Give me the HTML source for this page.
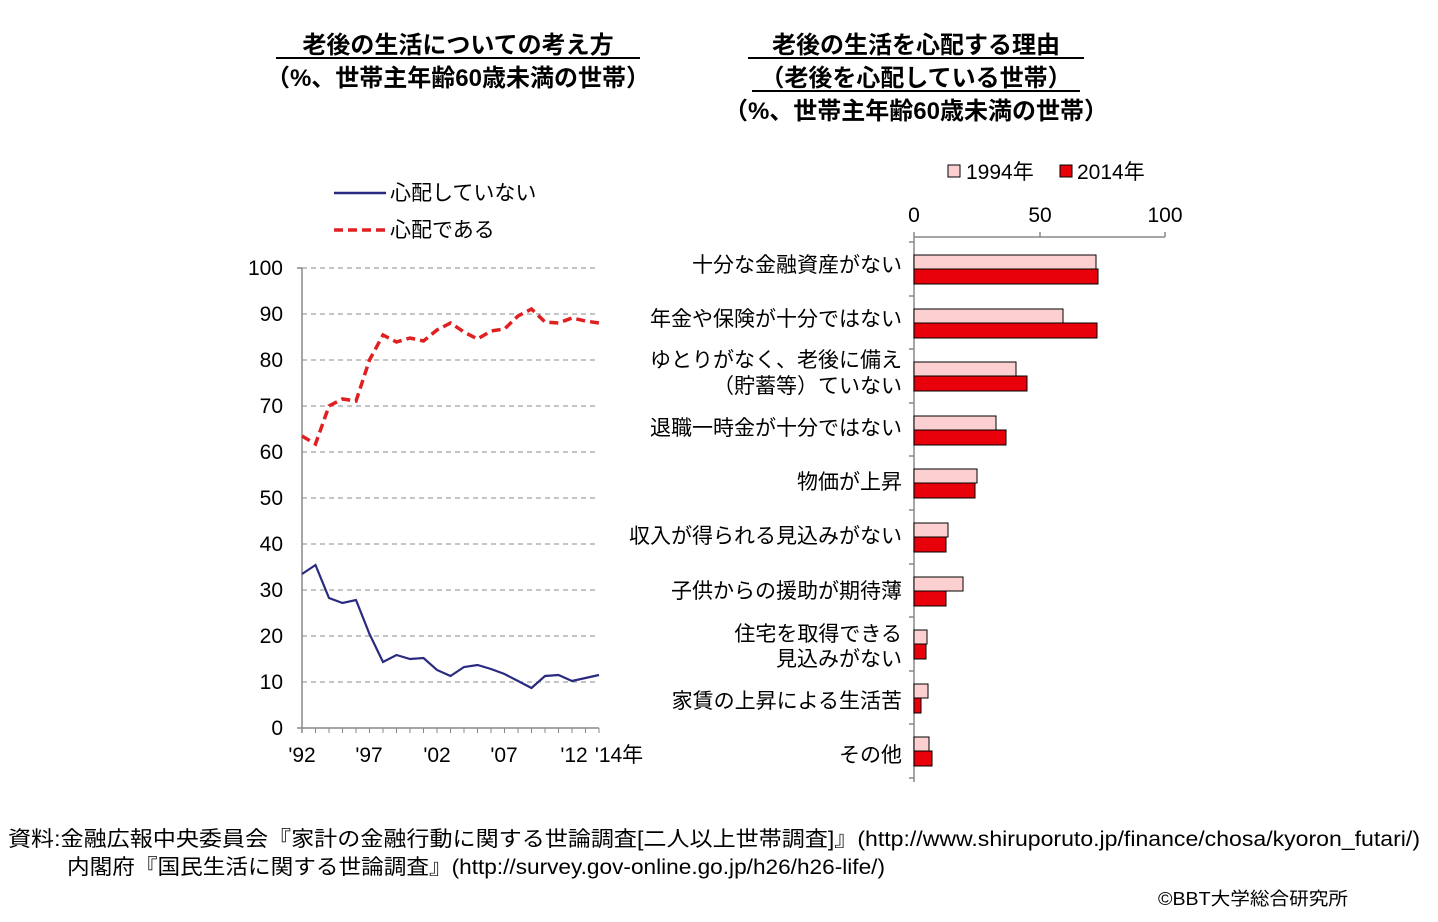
<!DOCTYPE html>
<html><head><meta charset="utf-8"><style>
html,body{margin:0;padding:0;background:#fff;}
svg{display:block;font-family:"Liberation Sans","Noto Sans CJK JP",sans-serif;}
</style></head><body>
<svg width="1438" height="922" viewBox="0 0 1438 922" xmlns="http://www.w3.org/2000/svg">
<g font-weight="bold" font-size="24" text-anchor="middle" fill="#000">
<text x="458" y="53">老後の生活についての考え方</text>
<line x1="276" y1="58" x2="640" y2="58" stroke="#000" stroke-width="2"/>
<text x="458" y="86">（%、世帯主年齢60歳未満の世帯）</text>
<text x="916" y="53">老後の生活を心配する理由</text>
<line x1="748" y1="58" x2="1084" y2="58" stroke="#000" stroke-width="2"/>
<text x="916" y="86">（老後を心配している世帯）</text>
<line x1="752" y1="91" x2="1080" y2="91" stroke="#000" stroke-width="2"/>
<text x="916" y="119">（%、世帯主年齢60歳未満の世帯）</text>
</g>
<line x1="334" y1="193" x2="386" y2="193" stroke="#2a2a80" stroke-width="2.5"/>
<text x="390" y="200" font-size="21">心配していない</text>
<line x1="334" y1="230" x2="386" y2="230" stroke="#e02020" stroke-width="3.5" stroke-dasharray="9,5"/>
<text x="390" y="237" font-size="21">心配である</text>
<g stroke="#888" stroke-width="1" stroke-dasharray="5,4">
<line x1="302" y1="268" x2="599" y2="268"/><line x1="302" y1="314" x2="599" y2="314"/>
<line x1="302" y1="360" x2="599" y2="360"/><line x1="302" y1="406" x2="599" y2="406"/>
<line x1="302" y1="452" x2="599" y2="452"/><line x1="302" y1="498" x2="599" y2="498"/>
<line x1="302" y1="544" x2="599" y2="544"/><line x1="302" y1="590" x2="599" y2="590"/>
<line x1="302" y1="636" x2="599" y2="636"/><line x1="302" y1="682" x2="599" y2="682"/>
</g>
<g stroke="#888" stroke-width="1.5">
<line x1="302" y1="268" x2="302" y2="733"/><line x1="297" y1="728" x2="599" y2="728"/>
<line x1="297" y1="268" x2="302" y2="268"/>
</g>
<g font-size="21" text-anchor="end">
<text x="283" y="275">100</text><text x="283" y="321">90</text><text x="283" y="367">80</text>
<text x="283" y="413">70</text><text x="283" y="459">60</text><text x="283" y="505">50</text>
<text x="283" y="551">40</text><text x="283" y="597">30</text><text x="283" y="643">20</text>
<text x="283" y="689">10</text><text x="283" y="735">0</text>
</g>
<g font-size="21" text-anchor="middle">
<text x="302" y="762">'92</text><text x="369" y="762">'97</text><text x="437" y="762">'02</text>
<text x="504" y="762">'07</text><text x="574" y="762">'12</text><text x="619" y="762">'14年</text>
</g>
<g stroke="#888" stroke-width="1">
<path d="M302,728v5M315.5,728v5M329,728v5M342.5,728v5M356,728v5M369.5,728v5M383,728v5M396.5,728v5M410,728v5M423.5,728v5M437,728v5M450.5,728v5M464,728v5M477.5,728v5M491,728v5M504.5,728v5M518,728v5M531.5,728v5M545,728v5M558.5,728v5M572,728v5M585.5,728v5M599,728v5"/>
</g>
<polyline fill="none" stroke="#2a2a80" stroke-width="2.2" points="302,574 315.5,565 329,598 342.5,603 356,600 369.5,634 383,662 396.5,655 410,659 423.5,658 437,670 450.5,676 464,667 477.5,665 491,669 504.5,674 518,681 531.5,688 545,676 558.5,675 572,681 585.5,678 599,675"/>
<polyline fill="none" stroke="#e02020" stroke-width="3.5" stroke-dasharray="9,5" points="302,436 315.5,444 329,406 342.5,399 356,401 369.5,360 383,335 396.5,342 410,338 423.5,341 437,330 450.5,323 464,332 477.5,339 491,331 504.5,329 518,316 531.5,309 545,322 558.5,323 572,318 585.5,321 599,323"/>
<rect x="948" y="165" width="12" height="12" fill="#fcd0d0" stroke="#000" stroke-width="1"/>
<text x="966" y="179" font-size="21">1994年</text>
<rect x="1060" y="165" width="12" height="12" fill="#e8000a" stroke="#000" stroke-width="1"/>
<text x="1077" y="179" font-size="21">2014年</text>
<g font-size="21" text-anchor="middle">
<text x="914" y="222">0</text><text x="1040" y="222">50</text><text x="1165" y="222">100</text>
</g>
<g stroke="#888" stroke-width="1.5">
<line x1="914" y1="237" x2="1165" y2="237"/>
<line x1="914" y1="232" x2="914" y2="782"/>
<path d="M1040,232v5M1165,232v5M909,242h5M909,296h5M909,349h5M909,403h5M909,456h5M909,510h5M909,564h5M909,617h5M909,671h5M909,724h5M909,778h5"/>
</g>
<g stroke="#000" stroke-width="1">
<rect x="914" y="255" width="182" height="14" fill="#fcd0d0"/><rect x="914" y="269" width="184" height="15" fill="#e8000a"/>
<rect x="914" y="309" width="149" height="14" fill="#fcd0d0"/><rect x="914" y="323" width="183" height="15" fill="#e8000a"/>
<rect x="914" y="362" width="102" height="14" fill="#fcd0d0"/><rect x="914" y="376" width="113" height="15" fill="#e8000a"/>
<rect x="914" y="416" width="82" height="14" fill="#fcd0d0"/><rect x="914" y="430" width="92" height="15" fill="#e8000a"/>
<rect x="914" y="469" width="63" height="14" fill="#fcd0d0"/><rect x="914" y="483" width="61" height="15" fill="#e8000a"/>
<rect x="914" y="523" width="34" height="14" fill="#fcd0d0"/><rect x="914" y="537" width="32" height="15" fill="#e8000a"/>
<rect x="914" y="577" width="49" height="14" fill="#fcd0d0"/><rect x="914" y="591" width="32" height="15" fill="#e8000a"/>
<rect x="914" y="630" width="13" height="14" fill="#fcd0d0"/><rect x="914" y="644" width="12" height="15" fill="#e8000a"/>
<rect x="914" y="684" width="14" height="14" fill="#fcd0d0"/><rect x="914" y="698" width="7" height="15" fill="#e8000a"/>
<rect x="914" y="737" width="15" height="14" fill="#fcd0d0"/><rect x="914" y="751" width="18" height="15" fill="#e8000a"/>
</g>
<g font-size="21" text-anchor="end">
<text x="902" y="272">十分な金融資産がない</text>
<text x="902" y="326">年金や保険が十分ではない</text>
<text x="902" y="367">ゆとりがなく、老後に備え</text>
<text x="902" y="393">（貯蓄等）ていない</text>
<text x="902" y="435">退職一時金が十分ではない</text>
<text x="902" y="489">物価が上昇</text>
<text x="902" y="543">収入が得られる見込みがない</text>
<text x="902" y="598">子供からの援助が期待薄</text>
<text x="902" y="641">住宅を取得できる</text>
<text x="902" y="666">見込みがない</text>
<text x="902" y="708">家賃の上昇による生活苦</text>
<text x="902" y="762">その他</text>
</g>
<g font-size="21">
<text x="8" y="846" textLength="1412" lengthAdjust="spacingAndGlyphs">資料:金融広報中央委員会『家計の金融行動に関する世論調査[二人以上世帯調査]』(http://www.shiruporuto.jp/finance/chosa/kyoron_futari/)</text>
<text x="67" y="874" textLength="818" lengthAdjust="spacingAndGlyphs">内閣府『国民生活に関する世論調査』(http://survey.gov-online.go.jp/h26/h26-life/)</text>
<text x="1158" y="905" font-size="18" textLength="190" lengthAdjust="spacingAndGlyphs">©BBT大学総合研究所</text>
</g>
</svg>
</body></html>
